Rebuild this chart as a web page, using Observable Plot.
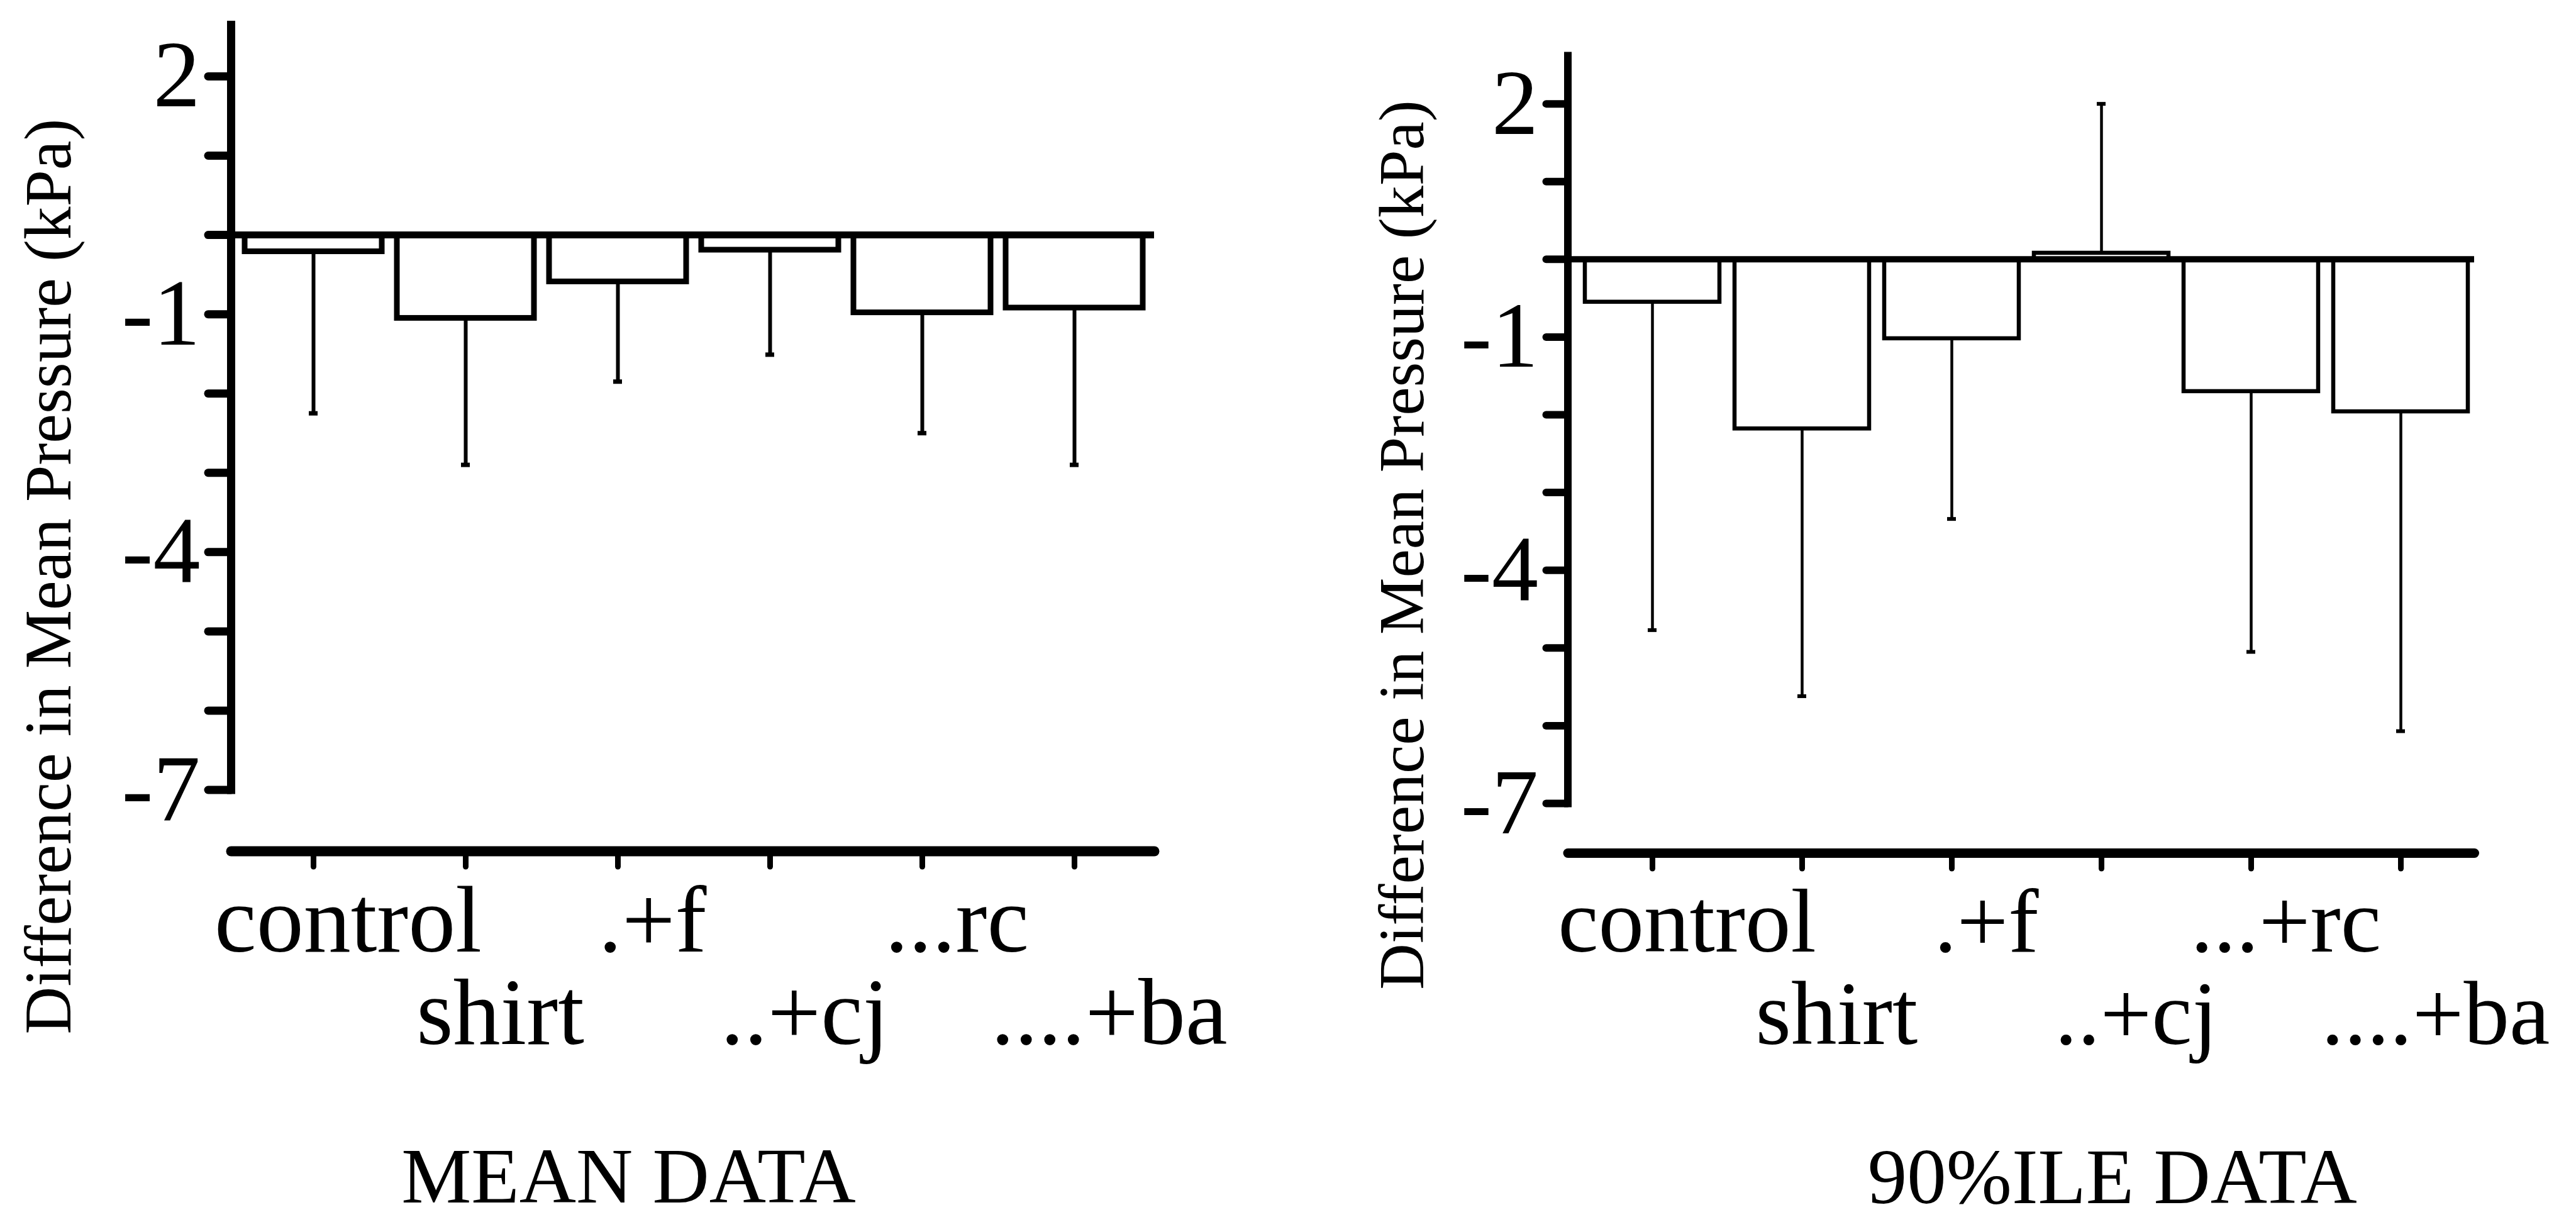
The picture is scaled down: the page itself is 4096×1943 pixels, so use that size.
<!DOCTYPE html>
<html><head><meta charset="utf-8">
<script src="https://cdn.jsdelivr.net/npm/d3@7"></script>
<script src="https://cdn.jsdelivr.net/npm/@observablehq/plot@0.6"></script>
<style>
html,body{margin:0;padding:0;background:#fff;}
#wrap{position:relative;width:4096px;height:1943px;overflow:hidden;background:#fff;}
#wrap > svg{position:absolute;top:0;}
</style></head><body><div id="wrap"></div>
<script>
// ---- data ----
const meanCategories = ["control", "shirt", ".+f", "..+cj", "...rc", "....+ba"];
const meanValues     = [-0.21, -1.05, -0.59, -0.19, -0.98, -0.92];
const meanErrors     = [-2.25, -2.90, -1.85, -1.51, -2.50, -2.90];

const pctCategories  = ["control", "shirt", ".+f", "..+cj", "...+rc", "....+ba"];
const pctValues      = [-0.55, -2.18, -1.02, 0.08, -1.70, -1.96];
const pctErrors      = [-4.77, -5.62, -3.34, 2.00, -5.05, -6.07];

const yTicks       = [-7, -6, -5, -4, -3, -2, -1, 0, 1, 2];
const yTickLabels  = [2, -1, -4, -7];
const yTitle       = "Difference in Mean Pressure (kPa)";
const panelTitles  = ["MEAN DATA", "90%ILE DATA"];

const FONT = "Liberation Serif, Times New Roman, serif";

function panel(cfg) {
  const data = cfg.cats.map((c, i) => ({cat: c, value: cfg.values[i], err: cfg.errors[i]}));
  const even = cfg.cats.filter((d, i) => i % 2 === 0);
  const odd  = cfg.cats.filter((d, i) => i % 2 === 1);
  return Plot.plot({
    width: 2048,
    height: 1943,
    marginLeft: cfg.mL, marginRight: cfg.mR, marginTop: cfg.mT, marginBottom: cfg.mB,
    x: {type: "band", domain: cfg.cats, range: cfg.xRange, paddingInner: 0.1, paddingOuter: 0.05, axis: null},
    y: {domain: [-7, cfg.yTop], range: cfg.yRange, axis: null},
    style: {fontFamily: FONT, background: "white", color: "black", overflow: "visible"},
    marks: [
      Plot.barY(data, {x: "cat", y: "value", fill: "white", stroke: "black", strokeWidth: cfg.barSW}),
      Plot.ruleY([0], {stroke: "black", strokeWidth: cfg.zeroSW}),
      Plot.ruleX(data, {x: "cat", y1: "value", y2: "err", stroke: "black", strokeWidth: cfg.errSW}),
      Plot.tickY(data, {x: "cat", y: "err", stroke: "black", strokeWidth: cfg.capSW, insetLeft: cfg.capInset, insetRight: cfg.capInset}),
      Plot.frame({anchor: "left", insetBottom: cfg.yAxisGap, stroke: "black", strokeWidth: cfg.axisSW}),
      Plot.frame({anchor: "bottom", stroke: "black", strokeWidth: cfg.xAxisSW, strokeLinecap: "round"}),
      Plot.axisY({ticks: yTicks, tickSize: cfg.tickSize, tickPadding: 13, strokeWidth: cfg.tickSW, strokeLinecap: "round",
                  fontSize: cfg.tickFont, fontFamily: FONT, label: null,
                  tickFormat: d => yTickLabels.includes(d) ? String(d) : ""}),
      Plot.axisX({tickSize: 25, strokeWidth: 9, strokeLinecap: "round", tickFormat: () => "", label: null}),
      Plot.text(even, {x: d => d, text: d => d, frameAnchor: "bottom", lineAnchor: "bottom",
                       dy: cfg.row1, dx: 55, fontSize: cfg.catFont, fontFamily: FONT}),
      Plot.text(odd, {x: d => d, text: d => d, frameAnchor: "bottom", lineAnchor: "bottom",
                      dy: cfg.row2, dx: 55, fontSize: cfg.catFont, fontFamily: FONT}),
      Plot.text([yTitle], {text: d => d, frameAnchor: "left", textAnchor: "middle", lineAnchor: "middle",
                           rotate: -90, dx: cfg.titleDx, dy: cfg.titleDy,
                           fontSize: cfg.yTitleFont, fontFamily: FONT}),
      Plot.text([cfg.title], {text: d => d, frameAnchor: "bottom", textAnchor: "middle", lineAnchor: "bottom",
                              dx: cfg.pDx, dy: cfg.pDy, fontSize: 125, fontFamily: FONT})
    ]
  });
}

const left = panel({
  cats: meanCategories, values: meanValues, errors: meanErrors, title: panelTitles[0],
  mL: 367, mR: 213, mT: 39, mB: 590,
  xRange: [375.2, 1831.2], yTop: 2.65, yRange: [1255.5, 39],
  barSW: 9, zeroSW: 11, errSW: 6, capSW: 7, capInset: 102, axisSW: 13, xAxisSW: 16,
  yAxisGap: 97.5, tickSize: 36, tickSW: 13, tickFont: 150,
  catFont: 150, row1: 159, row2: 306,
  titleDx: -289, titleDy: 220, yTitleFont: 105,
  pDx: -102, pDy: 558
});
const right = panel({
  cats: pctCategories, values: pctValues, errors: pctErrors, title: panelTitles[1],
  mL: 444.5, mR: 162, mT: 88, mB: 587,
  xRange: [457.6, 1890.4], yTop: 2.62, yRange: [1277, 88],
  barSW: 6.5, zeroSW: 10, errSW: 4.5, capSW: 6, capInset: 100, axisSW: 12, xAxisSW: 15,
  yAxisGap: 79, tickSize: 34, tickSW: 12, tickFont: 148,
  catFont: 145, row1: 156, row2: 303,
  titleDx: -263, titleDy: 144, yTitleFont: 102,
  pDx: 145, pDy: 556
});
left.style.left = "0px";
right.style.left = "2048px";
const wrap = document.getElementById("wrap");
wrap.appendChild(left);
wrap.appendChild(right);
</script>
</body></html>
